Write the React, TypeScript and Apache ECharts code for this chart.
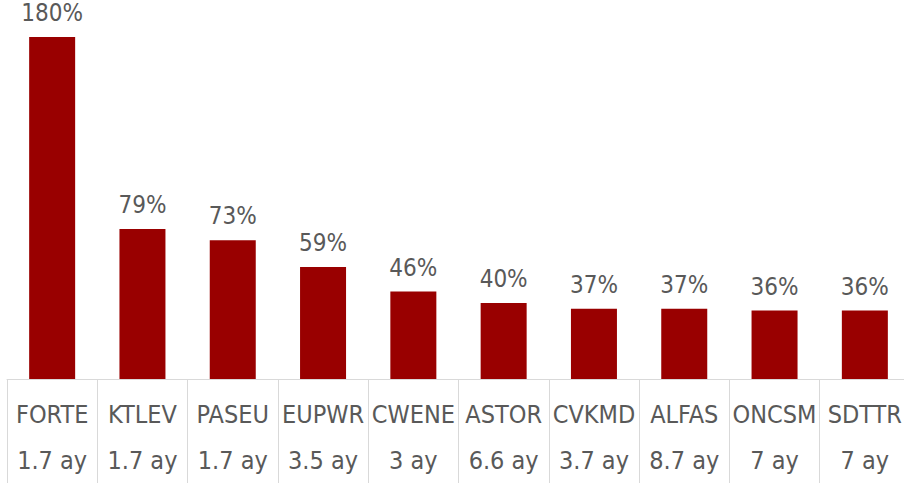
import React, { useEffect, useRef } from "react";
import * as echarts from "echarts";

const tickers = ["FORTE", "KTLEV", "PASEU", "EUPWR", "CWENE", "ASTOR", "CVKMD", "ALFAS", "ONCSM", "SDTTR"];
const periods = ["1.7 ay", "1.7 ay", "1.7 ay", "3.5 ay", "3 ay", "6.6 ay", "3.7 ay", "8.7 ay", "7 ay", "7 ay"];
const returns = [180, 79, 73, 59, 46, 40, 37, 37, 36, 36];

const FONT = "'Liberation Sans Narrow', 'Arial Narrow', 'DejaVu Sans Condensed', sans-serif";

export default function App() {
  const ref = useRef<HTMLDivElement>(null);
  useEffect(() => {
    if (!ref.current) return;
    const chart = echarts.init(ref.current, undefined, { renderer: "svg" });
    const categories = tickers.map((t, i) => t + "\n" + periods[i]);
    chart.setOption({
      animation: false,
      grid: { left: 7, right: 10, top: 37, bottom: 103, containLabel: false },
      xAxis: {
        type: "category",
        data: categories,
        axisLine: { show: true, lineStyle: { color: "#d9d9d9", width: 1 } },
        axisTick: { show: true, length: 110, interval: 0, lineStyle: { color: "#d9d9d9", width: 1 } },
        axisLabel: {
          interval: 0,
          margin: 12,
          color: "#595959",
          fontFamily: FONT,
          fontSize: 25,
          lineHeight: 46,
        },
      },
      yAxis: {
        type: "value",
        min: 0,
        max: 180,
        show: false,
        splitLine: { show: false },
      },
      series: [
        {
          type: "bar",
          data: returns,
          barWidth: 46,
          itemStyle: { color: "#990000" },
          label: {
            show: true,
            position: "top",
            distance: 14,
            color: "#595959",
            fontFamily: FONT,
            fontSize: 24,
            lineHeight: 20,
            formatter: (p: any) => Math.round(p.value) + "%",
          },
        },
      ],
    });
    return () => chart.dispose();
  }, []);
  return (
    <div style={{ position: "fixed", left: 0, top: 0, width: 904, height: 483, overflow: "hidden", background: "#fff" }}>
      <div ref={ref} style={{ width: 920, height: 483 }} />
    </div>
  );
}
